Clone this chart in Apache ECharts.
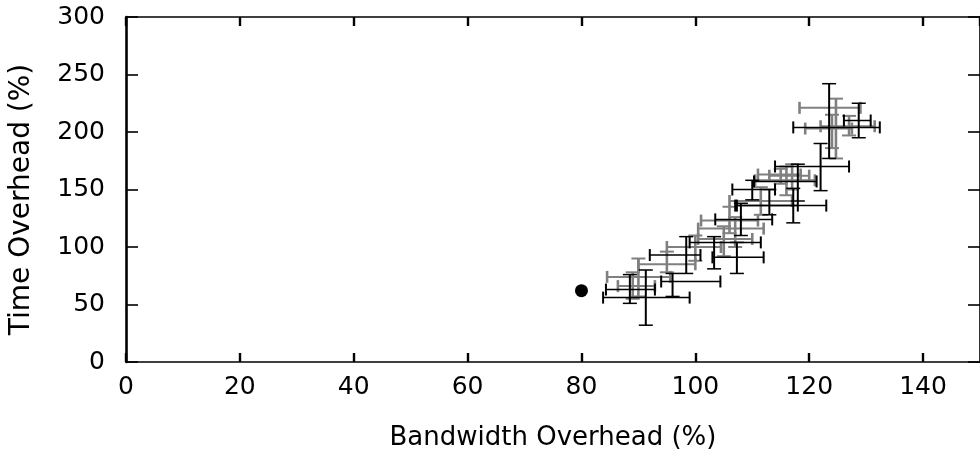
<!DOCTYPE html>
<html>
<head>
<meta charset="utf-8">
<script src="https://cdn.jsdelivr.net/npm/echarts@6/dist/echarts.min.js"></script>
<style>
html,body{margin:0;padding:0;background:#fff;}
#chart{width:980px;height:460px;}
</style>
</head>
<body>
<div id="chart"></div>
<script>
// Baseline point
const baseBandwidth = [80];
const baseTime = [62];

// Runs drawn in black: bandwidth overhead (mean, low, high), time overhead (mean, low, high)
const blackBw     = [91.3, 88.5, 96.0, 98.4, 103.3, 107.3, 108.0, 117.2, 118.0, 122.0, 123.5, 128.7, 113.0, 110.0];
const blackBwLow  = [83.8, 84.3, 94.0, 92.0, 99.0, 103.0, 103.5, 107.3, 110.3, 114.0, 117.2, 126.1, 107.0, 106.5];
const blackBwHigh = [99.0, 92.9, 104.4, 100.9, 111.5, 112.0, 113.5, 123.0, 121.3, 127.0, 132.4, 130.8, 118.0, 114.0];
const blackTime     = [56, 63, 70, 93, 104, 91, 124, 136, 157, 170, 204, 210, 136, 150];
const blackTimeLow  = [32, 51, 57, 77, 81, 77, 110, 121, 140, 149, 177, 195, 128, 141];
const blackTimeHigh = [80, 76, 77, 109, 109, 104, 138, 151, 172, 190, 242, 225, 150, 158];

// Runs drawn in grey
const greyBw     = [89.0, 90.0, 95.0, 100.0, 105.0, 106.0, 111.5, 116.0, 117.0, 124.7, 124.0, 127.0, 107.0, 115.0];
const greyBwLow  = [86.4, 84.5, 90.0, 95.0, 100.5, 101.0, 106.0, 110.5, 113.0, 118.3, 119.3, 122.0, 100.5, 111.0];
const greyBwHigh = [92.9, 95.6, 100.0, 104.5, 110.0, 111.0, 117.0, 121.0, 120.0, 129.0, 127.5, 131.5, 112.0, 118.5];
const greyTime     = [66, 74, 85, 100, 107, 123, 140, 158, 162, 221, 203, 205, 116, 163];
const greyTimeLow  = [55, 57, 78, 88, 92, 112, 128, 145, 150, 177, 186, 197, 100, 155];
const greyTimeHigh = [78, 90, 96, 110, 118, 135, 152, 170, 172, 229, 215, 214, 126, 168];

const xAxisMin = 0, xAxisMax = 150, xStep = 20;
const yAxisMin = 0, yAxisMax = 300, yStep = 50;

function rows(bw, bl, bh, t, tl, th) {
  return bw.map((v, i) => [v, t[i], bl[i], bh[i], tl[i], th[i]]);
}

function makeRender(color, hWidth, vWidth) {
  return function (params, api) {
    const c = api.coord([api.value(0), api.value(1)]);
    const l = api.coord([api.value(2), api.value(1)]);
    const r = api.coord([api.value(3), api.value(1)]);
    const lo = api.coord([api.value(0), api.value(4)]);
    const hi = api.coord([api.value(0), api.value(5)]);
    const capH = 6, capW = 7;
    const sh = {stroke: color, lineWidth: hWidth, fill: null};
    const sv = {stroke: color, lineWidth: vWidth, fill: null};
    const ln = (x1, y1, x2, y2, st) => ({type: 'line', shape: {x1, y1, x2, y2}, style: st});
    return {
      type: 'group',
      children: [
        ln(l[0], c[1], r[0], c[1], sh),
        ln(l[0], c[1] - capH, l[0], c[1] + capH, sv),
        ln(r[0], c[1] - capH, r[0], c[1] + capH, sv),
        ln(c[0], lo[1], c[0], hi[1], sv),
        ln(c[0] - capW, lo[1], c[0] + capW, lo[1], sh),
        ln(c[0] - capW, hi[1], c[0] + capW, hi[1], sh)
      ]
    };
  };
}

const font = 'DejaVu Sans, Liberation Sans, sans-serif';

const chart = echarts.init(document.getElementById('chart'), null, {renderer: 'canvas'});
chart.setOption({
  animation: false,
  backgroundColor: '#fff',
  grid: {left: 124, top: 17, width: 861, height: 345, containLabel: false},
  xAxis: [
    {
      type: 'value', position: 'bottom', min: xAxisMin, max: xAxisMax, interval: xStep,
      name: 'Bandwidth Overhead (%)', nameLocation: 'middle', nameGap: 63,
      nameTextStyle: {fontFamily: font, fontSize: 26, color: '#000'},
      axisLine: {show: true, onZero: false, lineStyle: {color: '#000', width: 1.7}},
      axisTick: {show: true, inside: true, length: 9, lineStyle: {color: '#000', width: 2.4}},
      splitLine: {show: false},
      axisLabel: {fontFamily: font, fontSize: 25, color: '#000', margin: 13, showMaxLabel: false,
        formatter: v => (v > 140 ? '' : String(v))}
    },
    {
      type: 'value', position: 'top', min: xAxisMin, max: xAxisMax, interval: xStep,
      axisLine: {show: true, onZero: false, lineStyle: {color: '#000', width: 1.7}},
      axisTick: {show: true, inside: true, length: 9, lineStyle: {color: '#000', width: 2.4}},
      splitLine: {show: false},
      axisLabel: {show: false}
    }
  ],
  yAxis: [
    {
      type: 'value', position: 'left', min: yAxisMin, max: yAxisMax, interval: yStep,
      name: 'Time Overhead (%)', nameLocation: 'middle', nameGap: 90,
      nameTextStyle: {fontFamily: font, fontSize: 28, color: '#000', padding: [0, 20, 0, 0]},
      axisLine: {show: true, onZero: false, lineStyle: {color: '#000', width: 2.6}},
      axisTick: {show: true, inside: true, length: 12, lineStyle: {color: '#000', width: 1.6}},
      splitLine: {show: false},
      axisLabel: {fontFamily: font, fontSize: 25, color: '#000', margin: 21}
    },
    {
      type: 'value', position: 'right', min: yAxisMin, max: yAxisMax, interval: yStep,
      axisLine: {show: true, onZero: false, lineStyle: {color: '#000', width: 2.6}},
      axisTick: {show: true, inside: true, length: 12, lineStyle: {color: '#000', width: 1.6}},
      splitLine: {show: false},
      axisLabel: {show: false}
    }
  ],
  series: [
    {
      type: 'custom', xAxisIndex: 0, yAxisIndex: 0,
      renderItem: makeRender('#808080', 2, 2.6),
      data: rows(greyBw, greyBwLow, greyBwHigh, greyTime, greyTimeLow, greyTimeHigh),
      encode: {x: [0, 2, 3], y: [1, 4, 5]}, clip: true, silent: true
    },
    {
      type: 'custom', xAxisIndex: 0, yAxisIndex: 0,
      renderItem: makeRender('#000', 1.5, 2),
      data: rows(blackBw, blackBwLow, blackBwHigh, blackTime, blackTimeLow, blackTimeHigh),
      encode: {x: [0, 2, 3], y: [1, 4, 5]}, clip: true, silent: true
    },
    {
      type: 'scatter', xAxisIndex: 0, yAxisIndex: 0,
      symbol: 'circle', symbolSize: 13,
      itemStyle: {color: '#000', opacity: 1},
      data: baseBandwidth.map((v, i) => [v, baseTime[i]])
    }
  ]
});
</script>
</body>
</html>
